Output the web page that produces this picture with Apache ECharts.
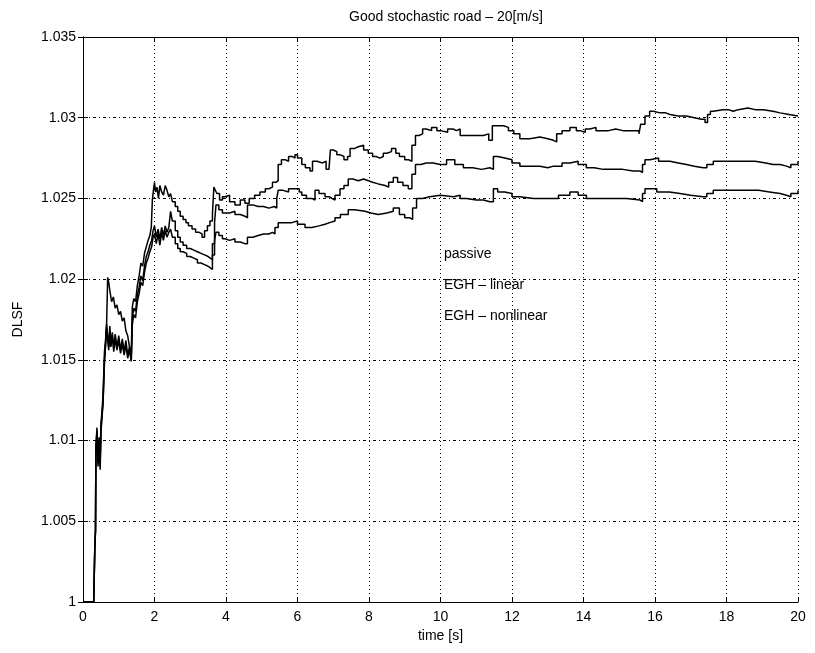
<!DOCTYPE html>
<html>
<head>
<meta charset="utf-8">
<script src="https://cdn.jsdelivr.net/npm/echarts@6/dist/echarts.min.js"></script>
<style>
  html, body { margin: 0; padding: 0; background: #fff; }
  #chart { width: 815px; height: 653px; }
</style>
</head>
<body>
<div id="chart"></div>
<script>
// [time s, DLSF]
const passive = [
  [0,1],[0.3,1],[0.32,1],[0.33,1.0034],[0.35,1.0045],[0.36,1.0095],[0.39,1.0108],[0.42,1.0088],[0.45,1.0102],[0.48,1.0086],
  [0.5,1.011],[0.53,1.0118],[0.56,1.0128],[0.6,1.0155],[0.63,1.0162],[0.66,1.0172],[0.69,1.0201],[0.72,1.0198],[0.75,1.0193],[0.8,1.0186],
  [0.85,1.0189],[0.9,1.0182],[0.95,1.0184],[1.0,1.0178],[1.05,1.018],[1.1,1.0174],[1.15,1.0176],[1.2,1.0168],[1.25,1.0165],[1.3,1.0158],
  [1.35,1.0154],[1.38,1.0183],[1.42,1.0188],[1.47,1.0186],[1.52,1.0196],[1.57,1.0202],[1.62,1.021],[1.67,1.0208],[1.72,1.0216],[1.77,1.022],
  [1.82,1.0224],[1.87,1.0227],[1.91,1.0232],[1.94,1.0249],[1.97,1.0255],[2.0,1.026],[2.03,1.0254],[2.07,1.0257],[2.11,1.025],[2.15,1.0258],
  [2.2,1.0254],[2.25,1.0252],[2.3,1.0258],[2.35,1.0255],[2.4,1.0251],[2.45,1.0253],[2.5,1.0248],[2.58,1.0245],[2.65,1.0242],[2.72,1.0239],
  [2.8,1.0237],[2.88,1.0235],[2.95,1.0233],[3.05,1.0231],[3.15,1.0229],[3.25,1.0228],[3.33,1.0226],[3.4,1.023],[3.48,1.0233],[3.55,1.0236],
  [3.62,1.024],[3.66,1.0257],[3.7,1.0255],[3.75,1.0253],[3.82,1.0249],[3.9,1.0251],[3.97,1.0252],[4.1,1.0248],[4.25,1.0246],[4.4,1.0249],
  [4.53,1.0247],[4.65,1.025],[4.8,1.0252],[4.95,1.0254],[5.1,1.0256],[5.2,1.0257],[5.3,1.026],[5.4,1.0261],[5.46,1.0271],[5.55,1.0274],
  [5.65,1.0273],[5.75,1.0276],[5.85,1.0275],[5.93,1.0277],[6.0,1.0275],[6.12,1.0271],[6.22,1.0269],[6.35,1.0267],[6.42,1.0273],[6.55,1.0272],
  [6.7,1.0273],[6.8,1.0268],[6.88,1.0269],[6.92,1.028],[7.0,1.0279],[7.1,1.0277],[7.2,1.0276],[7.3,1.0274],[7.4,1.0276],[7.47,1.0281],
  [7.6,1.0282],[7.7,1.0283],[7.85,1.028],[7.98,1.0278],[8.1,1.0276],[8.2,1.0275],[8.3,1.0276],[8.4,1.0278],[8.5,1.0279],[8.63,1.0281],
  [8.75,1.0278],[8.85,1.0276],[9.0,1.0274],[9.1,1.0273],[9.2,1.0283],[9.3,1.0289],[9.4,1.029],[9.5,1.0293],[9.6,1.0292],[9.75,1.0294],
  [9.9,1.0292],[10.0,1.0291],[10.2,1.0293],[10.35,1.0292],[10.45,1.0293],[10.55,1.0289],[10.8,1.0289],[11.0,1.0289],[11.2,1.029],[11.35,1.0286],
  [11.45,1.0295],[11.6,1.0295],[11.76,1.0294],[11.9,1.0292],[12.05,1.029],[12.22,1.0287],[12.5,1.0288],[12.78,1.0287],[13.0,1.0286],[13.16,1.0285],
  [13.25,1.029],[13.4,1.0292],[13.62,1.0294],[13.8,1.0292],[13.9,1.0291],[14.05,1.0293],[14.18,1.0294],[14.35,1.0292],[14.55,1.0292],[14.7,1.0293],
  [14.9,1.0292],[15.1,1.0292],[15.39,1.0292],[15.55,1.029],[15.6,1.0296],[15.72,1.0301],[15.85,1.0304],[15.95,1.0303],[16.14,1.0303],[16.3,1.0302],
  [16.42,1.0301],[16.65,1.0301],[16.88,1.03],[17.1,1.0299],[17.3,1.0299],[17.4,1.0297],[17.47,1.0302],[17.55,1.0304],[17.63,1.0305],[17.9,1.0305],
  [18.05,1.0304],[18.19,1.0305],[18.33,1.0306],[18.6,1.0305],[18.8,1.0305],[19.03,1.0304],[19.3,1.0303],[19.5,1.0302],[19.75,1.0301],[20,1.0301]
];

const egh_linear = [
  [0,1],[0.3,1],[0.32,1],[0.33,1.0034],[0.35,1.0045],[0.36,1.0095],[0.39,1.0106],[0.42,1.0086],[0.45,1.01],[0.48,1.0084],
  [0.5,1.0106],[0.53,1.0116],[0.56,1.0124],[0.6,1.015],[0.63,1.016],[0.66,1.0172],[0.69,1.0165],[0.72,1.0158],[0.75,1.0171],[0.78,1.016],
  [0.82,1.0167],[0.86,1.0157],[0.9,1.0166],[0.95,1.0158],[1.0,1.0165],[1.05,1.0156],[1.1,1.0163],[1.15,1.0155],[1.2,1.0162],[1.25,1.0153],
  [1.3,1.0158],[1.35,1.015],[1.38,1.0176],[1.42,1.0182],[1.47,1.018],[1.52,1.019],[1.57,1.0195],[1.62,1.0202],[1.67,1.0199],[1.72,1.0208],
  [1.77,1.0214],[1.82,1.0217],[1.87,1.0221],[1.92,1.0224],[1.96,1.023],[2.0,1.0233],[2.05,1.0226],[2.1,1.0231],[2.15,1.0225],[2.2,1.0232],
  [2.25,1.0227],[2.3,1.0233],[2.35,1.0229],[2.4,1.0232],[2.45,1.0242],[2.5,1.0236],[2.58,1.023],[2.65,1.0226],[2.72,1.0223],[2.8,1.0221],
  [2.9,1.0219],[3.0,1.0218],[3.1,1.0217],[3.2,1.0216],[3.3,1.0215],[3.4,1.0214],[3.5,1.0213],[3.56,1.0212],[3.62,1.0222],[3.68,1.0235],
  [3.72,1.0246],[3.8,1.0243],[3.9,1.0241],[3.97,1.0241],[4.1,1.0242],[4.25,1.024],[4.4,1.0239],[4.53,1.0238],[4.6,1.0246],[4.75,1.0245],
  [4.9,1.0245],[5.05,1.0244],[5.2,1.0245],[5.35,1.0244],[5.42,1.025],[5.46,1.0255],[5.6,1.0254],[5.75,1.0256],[5.93,1.0256],[6.05,1.0254],
  [6.12,1.0252],[6.25,1.025],[6.4,1.0249],[6.49,1.0255],[6.6,1.0253],[6.77,1.0251],[6.9,1.025],[6.96,1.0249],[7.05,1.0252],[7.19,1.0256],
  [7.3,1.0258],[7.42,1.0262],[7.55,1.0261],[7.7,1.0262],[7.85,1.0261],[7.98,1.026],[8.1,1.0259],[8.26,1.0258],[8.45,1.0257],[8.55,1.026],
  [8.68,1.0263],[8.8,1.026],[8.95,1.0258],[9.1,1.0256],[9.2,1.0265],[9.3,1.0271],[9.45,1.0272],[9.6,1.0272],[9.8,1.0271],[9.99,1.0271],
  [10.17,1.0274],[10.4,1.0271],[10.64,1.0269],[10.9,1.0268],[11.15,1.0269],[11.38,1.0268],[11.48,1.0276],[11.6,1.0275],[11.8,1.0274],[12.0,1.0272],
  [12.22,1.027],[12.5,1.027],[12.78,1.0269],[13.0,1.027],[13.16,1.027],[13.4,1.0272],[13.62,1.0273],[13.85,1.0271],[14.08,1.0269],[14.3,1.0268],
  [14.55,1.0268],[14.83,1.0268],[15.1,1.0267],[15.39,1.0267],[15.58,1.0266],[15.65,1.0271],[15.72,1.0274],[15.86,1.0275],[16.1,1.0273],[16.42,1.0272],
  [16.65,1.0271],[16.88,1.027],[17.1,1.0269],[17.35,1.0269],[17.45,1.0271],[17.63,1.0273],[17.9,1.0273],[18.2,1.0273],[18.56,1.0273],[18.8,1.0272],
  [19.1,1.0271],[19.3,1.0271],[19.5,1.027],[19.68,1.0269],[19.8,1.0271],[20,1.0273]
];

const egh_nonlinear = [
  [0,1],[0.3,1],[0.32,1],[0.33,1.0033],[0.35,1.0044],[0.36,1.0093],[0.39,1.0104],[0.42,1.0084],[0.45,1.0099],[0.48,1.0082],
  [0.5,1.0104],[0.53,1.0114],[0.56,1.0122],[0.6,1.0148],[0.63,1.0158],[0.66,1.017],[0.69,1.0162],[0.72,1.0156],[0.75,1.0168],[0.78,1.0158],
  [0.82,1.0165],[0.86,1.0155],[0.9,1.0163],[0.95,1.0156],[1.0,1.0162],[1.05,1.0154],[1.1,1.016],[1.15,1.0153],[1.2,1.0159],[1.25,1.0151],
  [1.3,1.0156],[1.35,1.0149],[1.38,1.0172],[1.42,1.0178],[1.47,1.0176],[1.52,1.0186],[1.57,1.0191],[1.62,1.0198],[1.67,1.0196],[1.72,1.0204],
  [1.77,1.021],[1.82,1.0213],[1.87,1.0217],[1.92,1.022],[1.96,1.0226],[2.0,1.0228],[2.05,1.0222],[2.1,1.0228],[2.15,1.0221],[2.2,1.0229],
  [2.25,1.0224],[2.3,1.023],[2.35,1.0226],[2.4,1.0229],[2.45,1.0231],[2.5,1.0226],[2.58,1.0222],[2.65,1.0219],[2.72,1.0217],[2.8,1.0216],
  [2.9,1.0214],[3.0,1.0213],[3.1,1.0212],[3.2,1.021],[3.3,1.0209],[3.4,1.0208],[3.5,1.0207],[3.56,1.0206],[3.62,1.0215],[3.68,1.0224],
  [3.72,1.0229],[3.8,1.0227],[3.9,1.0225],[3.97,1.0224],[4.1,1.0225],[4.25,1.0223],[4.4,1.0222],[4.53,1.0222],[4.6,1.0226],[4.75,1.0227],
  [4.9,1.0228],[5.05,1.0228],[5.2,1.0229],[5.3,1.0228],[5.37,1.0232],[5.46,1.0235],[5.6,1.0235],[5.84,1.0236],[6.0,1.0234],[6.21,1.0232],
  [6.4,1.0233],[6.6,1.0234],[6.77,1.0235],[6.9,1.0236],[7.05,1.0238],[7.2,1.024],[7.42,1.0243],[7.6,1.0242],[7.89,1.0241],[8.05,1.024],
  [8.26,1.0239],[8.31,1.0241],[8.5,1.0242],[8.68,1.0244],[8.85,1.024],[9.0,1.0238],[9.14,1.0237],[9.22,1.0244],[9.33,1.025],[9.5,1.0251],
  [9.7,1.0252],[9.99,1.0251],[10.36,1.0252],[10.55,1.025],[10.73,1.0249],[11.0,1.0249],[11.2,1.0248],[11.38,1.0248],[11.48,1.0256],[11.6,1.0254],
  [11.8,1.0253],[12.0,1.0251],[12.22,1.025],[12.6,1.025],[12.97,1.025],[13.3,1.0252],[13.62,1.0254],[13.85,1.0252],[14.08,1.025],[14.4,1.025],
  [14.83,1.025],[15.2,1.0249],[15.58,1.0248],[15.65,1.0253],[15.72,1.0256],[15.86,1.0256],[16.05,1.0254],[16.4,1.0253],[16.7,1.0252],[17.0,1.0251],
  [17.35,1.0251],[17.45,1.0253],[17.63,1.0255],[17.9,1.0255],[18.2,1.0255],[18.56,1.0255],[18.9,1.0254],[19.2,1.0253],[19.5,1.0252],[19.68,1.0251],
  [19.8,1.0253],[20,1.0255]
];

const seriesNames = ['passive', 'EGH \u2013 linear', 'EGH \u2013 nonlinear'];
const xTicks = { min: 0, max: 20, interval: 2 };
const yTicks = { min: 1, max: 1.035, interval: 0.005 };

const font = 'Liberation Sans, Arial, Helvetica, sans-serif';
const myChart = echarts.init(document.getElementById('chart'));

const axisCommon = {
  axisLine: { show: true, lineStyle: { color: '#000', width: 1 } },
  axisTick: { show: true, inside: true, length: 5, lineStyle: { color: '#000' } },
};

const lineSeries = (name, data) => ({
  name: name,
  type: 'line',
  data: data,
  step: 'end',
  showSymbol: false,
  animation: false,
  lineStyle: { color: '#000', width: 1.5 },
  itemStyle: { color: '#000' },
});

const option = {
  backgroundColor: '#fff',
  animation: false,
  title: {
    text: 'Good stochastic road \u2013 20[m/s]',
    left: 441,
    textAlign: 'center',
    top: 5,
    textStyle: { fontFamily: font, fontSize: 14, fontWeight: 'normal', color: '#000' },
  },
  legend: {
    orient: 'vertical',
    left: 433,
    top: 242,
    itemWidth: 0,
    itemHeight: 0,
    itemGap: 17,
    selectedMode: false,
    data: seriesNames,
    textStyle: { fontFamily: font, fontSize: 14, color: '#000' },
  },
  grid: { left: 83, right: 17, top: 37, bottom: 51 },
  xAxis: [
    Object.assign({
      type: 'value',
      min: xTicks.min, max: xTicks.max, interval: xTicks.interval,
      name: 'time [s]',
      nameLocation: 'middle',
      nameGap: 27,
      nameTextStyle: { fontFamily: font, fontSize: 14, color: '#000' },
      axisLabel: { color: '#000', fontFamily: font, fontSize: 14, margin: 8 },
      splitLine: { show: true, lineStyle: { color: '#000', type: [1, 3], width: 1 } },
    }, axisCommon),
    Object.assign({
      type: 'value', position: 'top',
      min: xTicks.min, max: xTicks.max, interval: xTicks.interval,
      axisLabel: { show: false },
      splitLine: { show: false },
    }, axisCommon),
  ],
  yAxis: [
    Object.assign({
      type: 'value',
      min: yTicks.min, max: yTicks.max, interval: yTicks.interval,
      name: 'DLSF',
      nameLocation: 'middle',
      nameGap: 58,
      nameTextStyle: { fontFamily: font, fontSize: 14, color: '#000' },
      axisLabel: {
        color: '#000', fontFamily: font, fontSize: 14, margin: 7,
        formatter: (v) => String(parseFloat(v.toFixed(3))),
      },
      splitLine: { show: true, lineStyle: { color: '#000', type: [3, 3, 1, 3], width: 1 } },
    }, axisCommon),
    Object.assign({
      type: 'value', position: 'right',
      min: yTicks.min, max: yTicks.max, interval: yTicks.interval,
      axisLabel: { show: false },
      splitLine: { show: false },
    }, axisCommon),
  ],
  series: [
    lineSeries(seriesNames[0], passive),
    lineSeries(seriesNames[1], egh_linear),
    lineSeries(seriesNames[2], egh_nonlinear),
  ],
};

myChart.setOption(option);
</script>
</body>
</html>
